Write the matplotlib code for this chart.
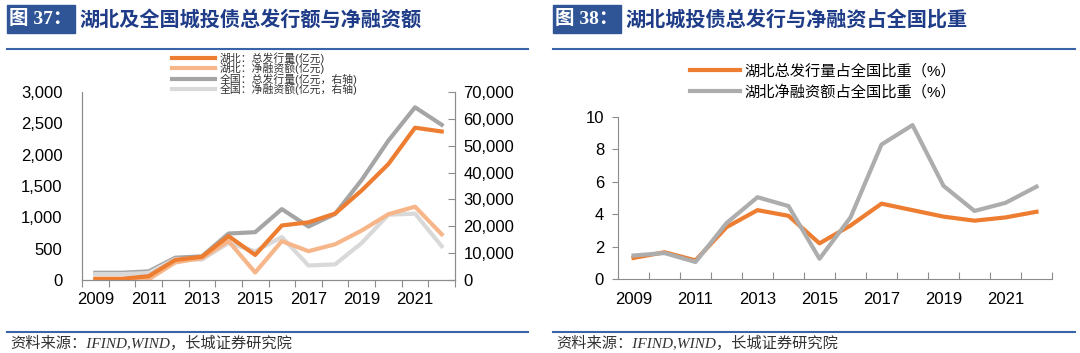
import matplotlib
matplotlib.use('Agg')
import matplotlib.pyplot as plt
import numpy as np
from matplotlib.patches import Rectangle
from matplotlib.lines import Line2D

plt.rcParams['font.family'] = ['Liberation Sans', 'Noto Sans CJK SC']
plt.rcParams['axes.unicode_minus'] = False

# data
years = list(range(2009, 2023))
hb_total = [20, 20, 60, 320, 370, 700, 400, 870, 920, 1060, 1430, 1850, 2430, 2370]
hb_net = [10, 10, 10, 280, 350, 620, 120, 620, 460, 570, 790, 1050, 1170, 730]
cn_total = [2700, 2700, 3200, 8300, 8800, 17300, 17800, 26400, 19900, 24600, 37300, 51900, 64300, 57800]
cn_net = [2200, 2200, 2600, 7800, 7600, 13800, 10700, 16000, 5400, 5800, 13800, 24300, 24700, 12600]
share_total = [1.3, 1.65, 1.15, 3.2, 4.25, 3.9, 2.2, 3.3, 4.65, 4.25, 3.85, 3.6, 3.8, 4.15]
share_net = [1.45, 1.6, 1.05, 3.45, 5.05, 4.5, 1.25, 3.8, 8.3, 9.5, 5.75, 4.2, 4.7, 5.7]

labels_left = ['湖北：总发行量(亿元)', '湖北：净融资额(亿元)',
               '全国：总发行量(亿元，右轴)', '全国：净融资额(亿元，右轴)']
labels_right = ['湖北总发行量占全国比重（%）', '湖北净融资额占全国比重（%）']

ORANGE = '#ED7D31'
LORANGE = '#F6B68A'
GREY = '#A5A5A5'
LGREY = '#D9D9D9'
BLUE = '#2F5597'
NAVY = '#1F3C88'
SPINE = '#8C8C8C'

W, H = 1080, 353
fig = plt.figure(figsize=(W / 100, H / 100), dpi=100)


def px(x0, y0, x1, y1):
    # pixel box (top-left origin) -> figure fraction rect
    return [x0 / W, 1 - y1 / H, (x1 - x0) / W, (y1 - y0) / H]


def header(x0, x1, num, title):
    fig.patches.append(Rectangle((x0 / W, 1 - 33 / H), 68 / W, 28 / H,
                                 transform=fig.transFigure, color=BLUE))
    fig.text((x0 + 34) / W, 1 - 19 / H, '图 ' + num + '：', color='white',
             fontsize=14, fontweight='bold', ha='center', va='center',
             family=['Liberation Serif', 'Noto Sans CJK SC'])
    fig.text((x0 + 72) / W, 1 - 19 / H, title, color=NAVY, fontsize=14.5,
             fontweight='bold', ha='left', va='center', family=['Noto Sans CJK SC'])
    fig.lines.append(Line2D([x0 / W, x1 / W], [1 - 49 / H] * 2,
                            transform=fig.transFigure, color='#3A64A8', lw=1.5))
    fig.lines.append(Line2D([x0 / W, x1 / W], [1 - 332 / H] * 2,
                            transform=fig.transFigure, color='#3A64A8', lw=1.5))
    fig.text((x0 + 3) / W, 1 - 343 / H, '资料来源：IFIND,WIND，长城证券研究院',
             fontsize=11, style='italic', color='#333333', ha='left', va='center',
             family=['Liberation Serif', 'Noto Sans CJK SC'])


def cat_axis(ax, n):
    ax.set_xlim(-0.5, n - 0.5)
    ax.set_xticks(np.arange(-0.5, n, 1.0))
    ax.set_xticklabels([])
    ax.set_xticks(np.arange(0, n, 2), minor=True)
    ax.set_xticklabels([str(years[i]) for i in range(0, n, 2)], minor=True)
    ax.tick_params(axis='x', which='minor', length=0, pad=9, labelsize=12)


header(7, 528, '37', '湖北及全国城投债总发行额与净融资额')
header(553, 1075, '38', '湖北城投债总发行与净融资占全国比重')

n = len(years)
x = np.arange(n)

# left chart
ax = fig.add_axes(px(82, 92, 455, 280))
ax2 = ax.twinx()
l1, = ax.plot(x, hb_total, color=ORANGE, lw=3, label=labels_left[0], zorder=3)
l2, = ax.plot(x, hb_net, color=LORANGE, lw=3, label=labels_left[1], zorder=2)
l3, = ax2.plot(x, cn_total, color=GREY, lw=3, label=labels_left[2])
l4, = ax2.plot(x, cn_net, color=LGREY, lw=3, label=labels_left[3])
ax.set_zorder(ax2.get_zorder() + 1)
ax.patch.set_visible(False)
ax.set_ylim(0, 3000)
ax.set_yticks(np.arange(0, 3001, 500))
ax.set_yticklabels([f'{v:,}' for v in range(0, 3001, 500)])
ax2.set_ylim(0, 70000)
ax2.set_yticks(np.arange(0, 70001, 10000))
ax2.set_yticklabels([f'{v:,}' for v in range(0, 70001, 10000)])
cat_axis(ax, n)
for a in (ax, ax2):
    a.spines['top'].set_visible(False)
    for s in ('left', 'right', 'bottom'):
        a.spines[s].set_color(SPINE)
ax.tick_params(axis='x', which='major', direction='out', length=5, color=SPINE)
ax.tick_params(axis='y', direction='out', length=0, labelsize=12, pad=14)
ax2.tick_params(axis='y', direction='in', length=5, color=SPINE, labelsize=12, pad=6)
fig.legend(handles=[l1, l2, l3, l4], loc='upper left',
           bbox_to_anchor=(172 / W, 1 - 52 / H), frameon=False, fontsize=7.8,
           handlelength=4.0, handletextpad=0.4, labelspacing=-0.1,
           borderpad=0, borderaxespad=0, labelcolor='#333333')

# right chart
bx = fig.add_axes(px(618, 117, 1052, 279))
bx.plot(x, share_total, color=ORANGE, lw=3, label=labels_right[0])
bx.plot(x, share_net, color='#ADADAD', lw=3, label=labels_right[1])
bx.set_ylim(0, 10)
bx.set_yticks(np.arange(0, 11, 2))
cat_axis(bx, n)
for s in ('top', 'right'):
    bx.spines[s].set_visible(False)
for s in ('left', 'bottom'):
    bx.spines[s].set_color(SPINE)
bx.tick_params(axis='x', which='major', direction='in', length=5, color=SPINE)
bx.tick_params(axis='y', direction='out', length=4, color=SPINE, labelsize=12, pad=6)
bx.legend(loc='upper left', bbox_to_anchor=(690 / W, 1 - 64 / H),
          bbox_transform=fig.transFigure, frameon=False, fontsize=11,
          handlelength=3.3, handletextpad=0.25, labelspacing=0.4,
          borderpad=0, borderaxespad=0)

fig.savefig('out.png', dpi=100)
